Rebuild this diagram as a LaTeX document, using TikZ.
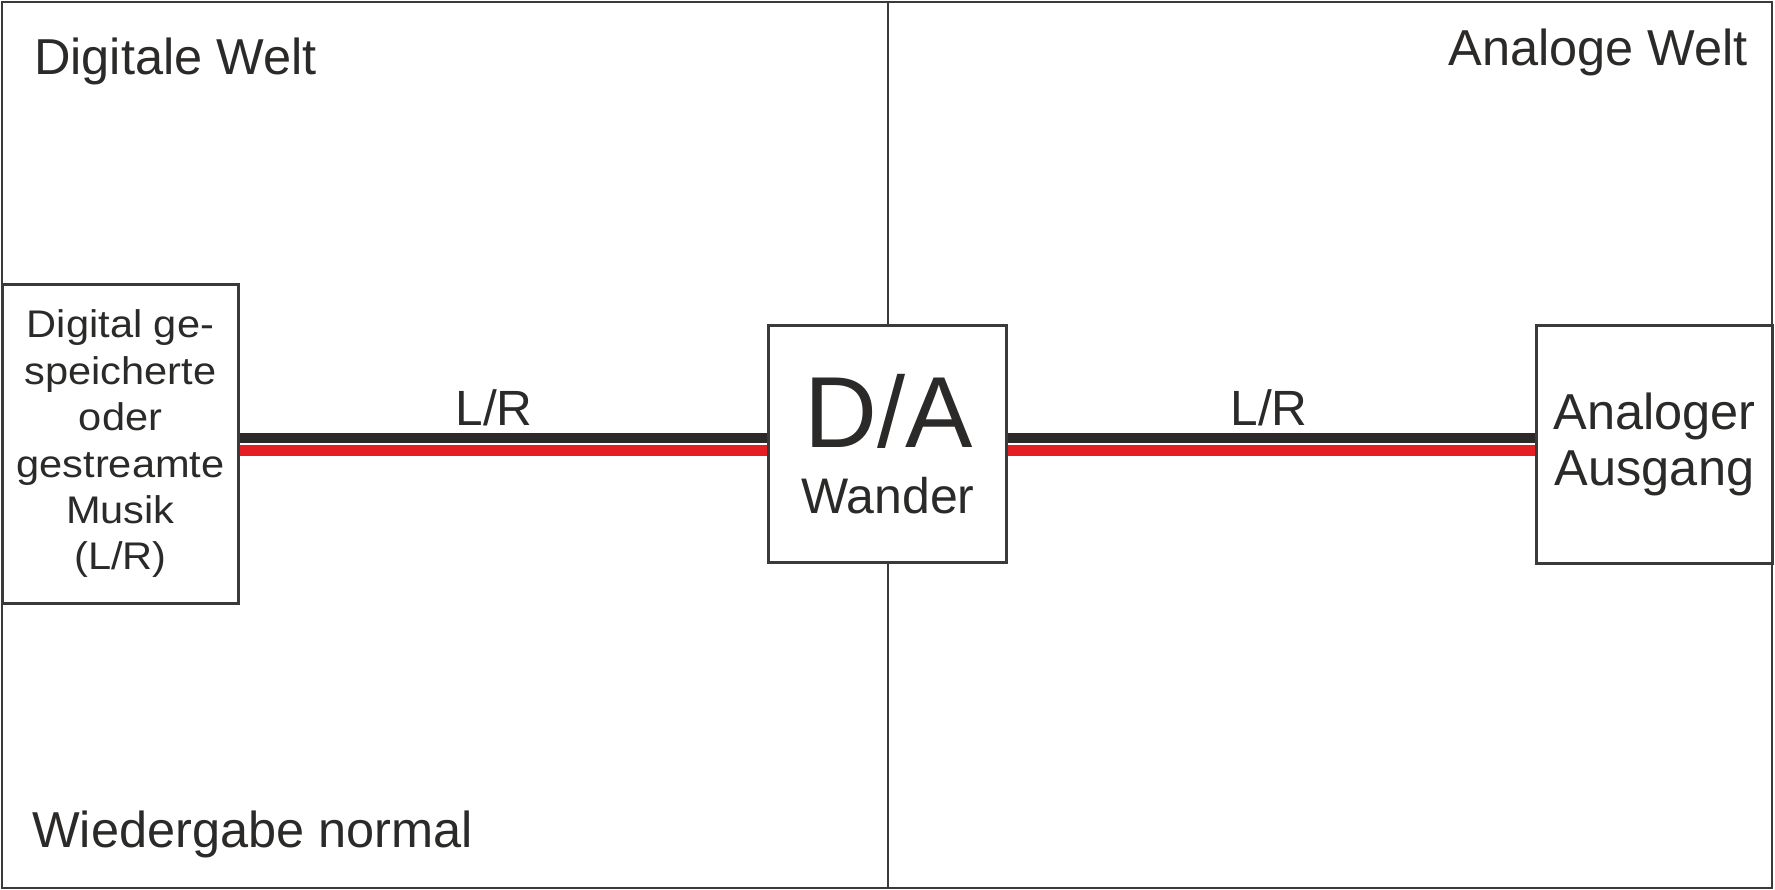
\documentclass[tikz,border=0pt]{standalone}
\usepackage{fontspec}
\setmainfont{Liberation Sans}
\newfontfamily\widefont[FakeStretch=1.08]{Liberation Sans}
\definecolor{ink}{HTML}{2B2A29}
\definecolor{frame}{HTML}{3A3A3A}
\definecolor{wirered}{HTML}{E31E24}
\begin{document}
\begin{tikzpicture}[x=1pt,y=-1pt,
  box/.style={draw=frame,line width=2pt,fill=white,rectangle,inner sep=0pt,
    text=ink,align=center},
  txt/.style={inner sep=0pt,text=ink},
  big/.style={font=\fontsize{50.5}{56}\selectfont},
  mid/.style={font=\fontsize{50}{56}\selectfont},
  wireblack/.style={draw=ink,line width=10pt},
  wirered/.style={draw=wirered,line width=11pt}]
\useasboundingbox (0,0) rectangle (1775,889);
\fill[white] (0,0) rectangle (1775,889);
% frame
\draw[frame,line width=2pt] (1.5,1.5) rectangle (1772,887.5);
% boxes
\node[box,minimum width=235pt,minimum height=318pt,
  font=\widefont\fontsize{38.5}{46.4}\selectfont] (src) at (120.5,444)
  {Digital ge-\\speicherte\\oder\\gestreamte\\Musik\\(L/R)};
\node[box,minimum width=237pt,minimum height=236pt] (da) at (887.5,444) {};
\node[box,minimum width=235pt,minimum height=237pt,
  font=\fontsize{50.5}{56}\selectfont] (out) at (1654.5,444) {Analoger\\Ausgang};
% divider
\coordinate (dtop) at (887.5,1.5);
\coordinate (dbot) at (887.5,887.5);
\draw[frame,line width=2pt] (dtop) -- (da.north);
\draw[frame,line width=2pt] (da.south) -- (dbot);
% wires
\draw[wireblack] ([yshift=6pt]src.east) -- ([yshift=6pt]da.west);
\draw[wirered] ([yshift=-6.5pt]src.east) -- ([yshift=-6.5pt]da.west);
\draw[wireblack] ([yshift=6pt]da.east) -- ([yshift=6pt]out.west);
\draw[wirered] ([yshift=-6.5pt]da.east) -- ([yshift=-6.5pt]out.west);
% box borders on top of wire ends
\draw[frame,line width=2pt] (src.south west) rectangle (src.north east);
\draw[frame,line width=2pt] (da.south west) rectangle (da.north east);
\draw[frame,line width=2pt] (out.south west) rectangle (out.north east);
% D/A labels
\node[txt,anchor=base,font=\fontsize{101}{110}\selectfont] (dalabel) at (889,447) {D/A};
\node[txt,anchor=base,mid] (wander) at (888,513) {Wander};
% wire labels
\node[txt,anchor=base,font=\fontsize{49.5}{56}\selectfont] (lr1) at (494,425) {L/R};
\node[txt,anchor=base,font=\fontsize{49.5}{56}\selectfont] (lr2) at (1269,425) {L/R};
% region labels
\node[txt,big,anchor=base west] (dw) at (34,74) {Digitale Welt};
\node[txt,big,anchor=base east] (aw) at (1748,65) {Analoge Welt};
\node[txt,big,anchor=base west] (wn) at (32,847) {Wiedergabe normal};
\end{tikzpicture}
\end{document}
